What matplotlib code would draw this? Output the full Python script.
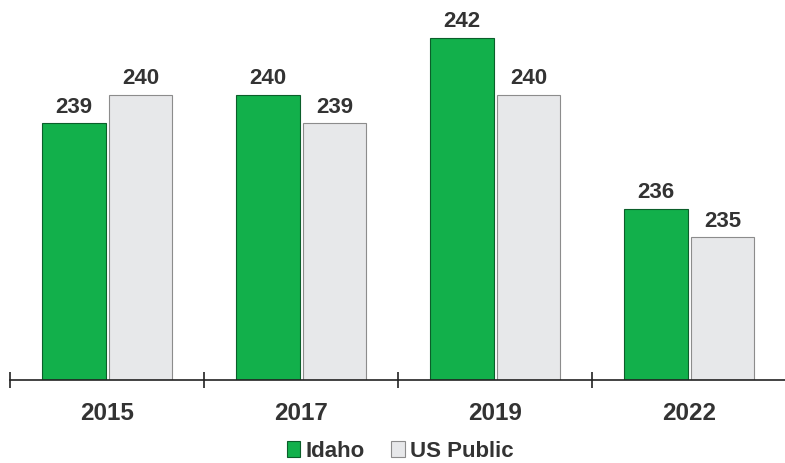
import numpy as np
import matplotlib.pyplot as plt

years = ["2015", "2017", "2019", "2022"]
idaho = [239, 240, 242, 236]
us_public = [240, 239, 240, 235]

text_color = "#333333"
plt.rcParams["font.family"] = ["Liberation Sans", "DejaVu Sans"]
plt.rcParams["font.weight"] = "bold"

fig = plt.figure(figsize=(7.85, 4.63), dpi=100)
ax = fig.add_axes([10 / 785, 83 / 463, 776 / 785, 380 / 463])

x = np.arange(len(years))
width = 0.325
b1 = ax.bar(x - 0.17, [v - 230 for v in idaho], width, bottom=230,
            color="#12b04b", edgecolor="#0b5e2a", linewidth=0.8, label="Idaho")
b2 = ax.bar(x + 0.175, [v - 230 for v in us_public], width, bottom=230,
            color="#e7e8ea", edgecolor="#8c8c8c", linewidth=0.8, label="US Public")

for bars, vals in [(b1, idaho), (b2, us_public)]:
    for rect, v in zip(bars, vals):
        ax.annotate(str(v), (rect.get_x() + rect.get_width() / 2, v),
                    xytext=(0, 4), textcoords="offset points",
                    ha="center", va="bottom", fontsize=16,
                    fontweight="bold", color=text_color)

ax.set_xlim(-0.5, 3.5)
ax.set_ylim(230, 230 + 380 / 28.5)

for s in ["top", "right", "left"]:
    ax.spines[s].set_visible(False)
ax.spines["bottom"].set_color("#222222")
ax.spines["bottom"].set_linewidth(1.2)
ax.set_yticks([])

ax.set_xticks(np.arange(-0.5, 4.0, 1.0))
ax.set_xticklabels([])
ax.tick_params(axis="x", which="major", direction="inout", length=12,
               width=1.2, color="#222222")
ax.set_xticks(x, minor=True)
ax.set_xticklabels(years, minor=True, fontsize=17.5, fontweight="bold",
                   color=text_color)
ax.tick_params(axis="x", which="minor", length=0, pad=16)

fig.legend(handles=[b1, b2], loc="lower center", bbox_to_anchor=(0.51, -0.04),
           ncol=2, frameon=False, handlelength=0.6, handleheight=0.7,
           handletextpad=0.25, columnspacing=1.2,
           prop={"size": 16, "weight": "bold"}, labelcolor=text_color)

fig.savefig("out.png", dpi=100)
